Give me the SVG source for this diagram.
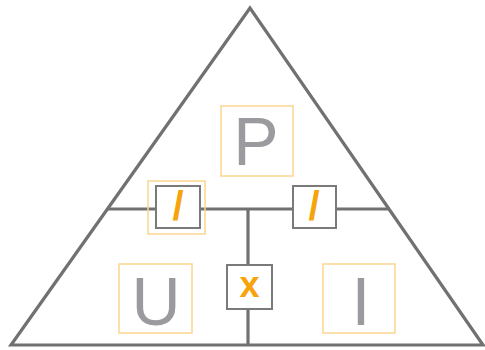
<svg xmlns="http://www.w3.org/2000/svg" width="485" height="350" viewBox="0 0 485 350">
<style>
.ln{stroke:#717171;stroke-width:3.2;fill:none}
.ob{fill:none;stroke:#fbd590;stroke-width:1.5}
.gb{fill:#fff;stroke:#7a7a7a;stroke-width:2}
.lt{font-family:"Liberation Sans",Arial,sans-serif;fill:#9b9b9f;text-anchor:middle}
.op{font-family:"Liberation Sans",Arial,sans-serif;fill:#f7a30b;font-weight:bold;text-anchor:middle}
</style>
<rect width="485" height="350" fill="#fff"/>
<g id="connectors">
<polygon class="ln" points="250,8 11,345 483,345" stroke-linejoin="miter"/>
<line class="ln" x1="107" y1="209" x2="390" y2="209"/>
<line class="ln" x1="248" y1="209" x2="248" y2="345"/>
</g>
<g id="P">
<rect class="ob" x="221" y="106" width="72" height="70"/>
<text class="lt" x="256" y="165" font-size="68">P</text>
</g>
<g id="U">
<rect class="ob" x="119" y="264" width="73" height="69"/>
<text class="lt" x="156" y="325" font-size="68">U</text>
</g>
<g id="I">
<rect class="ob" x="323" y="264" width="72" height="69"/>
<text class="lt" x="361" y="325" font-size="68">I</text>
</g>
<g id="div1">
<rect class="ob" x="148" y="181" width="57" height="53"/>
<rect class="gb" x="156" y="186" width="44" height="42"/>
<text class="op" x="178" y="220" font-size="40">/</text>
</g>
<g id="div2">
<rect class="gb" x="293" y="186" width="43" height="42"/>
<text class="op" x="314" y="220" font-size="40">/</text>
</g>
<g id="mul">
<rect class="gb" x="227" y="265" width="45" height="44"/>
<text class="op" x="249.5" y="297" font-size="36">x</text>
</g>
</svg>
